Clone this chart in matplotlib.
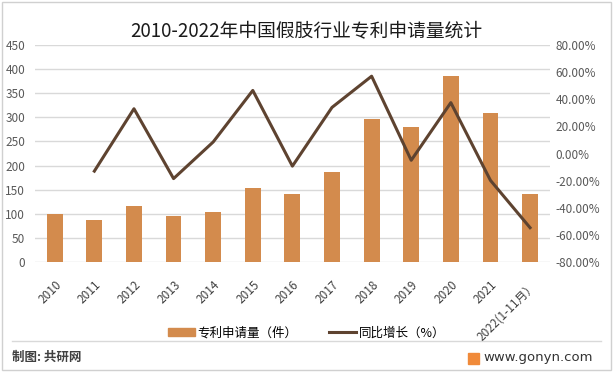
import numpy as np
import matplotlib
matplotlib.use('Agg')
import matplotlib.pyplot as plt
from matplotlib.patches import Rectangle
from matplotlib.lines import Line2D
from matplotlib.ticker import FuncFormatter, MultipleLocator

plt.rcParams['font.family'] = ['Noto Sans CJK SC', 'DejaVu Sans']

# 数据
years = ['2010', '2011', '2012', '2013', '2014', '2015', '2016', '2017',
         '2018', '2019', '2020', '2021', '2022(1-11月）']
applications = [100, 88, 117, 96, 104, 154, 140, 187, 297, 280, 386, 309, 140]
growth = [np.nan, -13.0, 33.0, -18.5, 8.5, 46.5, -9.3, 34.0, 57.0, -5.0, 37.5, -19.8, -54.7]

bar_color = '#D38B4D'
line_color = '#5E4330'
grid_color = '#D9D9D9'

fig = plt.figure(figsize=(6.13, 3.72), dpi=100)
fig.patch.set_facecolor('white')

# 外框
fig.add_artist(Rectangle((0.004, 0.006), 0.992, 0.988, transform=fig.transFigure,
                         fill=False, edgecolor='#D0D0D0', linewidth=1))

ax = fig.add_axes([0.057, 0.2957, 0.840, 0.5833])
x = np.arange(len(years))
ax.bar(x, applications, width=0.4, color=bar_color, zorder=2)
ax.set_xlim(-0.5, len(years) - 0.5)
ax.set_ylim(0, 450)
ax.yaxis.set_major_locator(MultipleLocator(50))
ax.grid(axis='y', color=grid_color, linewidth=1, zorder=0)
ax.set_axisbelow(True)
for s in ax.spines.values():
    s.set_visible(False)
ax.tick_params(axis='both', length=0, labelsize=8.5, colors='#595959')
ax.tick_params(axis='y', pad=7)
ax.set_xticks(x)
ax.set_xticklabels(years, rotation=45, ha='right', rotation_mode='anchor',
                   fontsize=8.5, color='#404040')
ax.tick_params(axis='x', pad=12)

ax2 = ax.twinx()
ax2.plot(x, np.array(growth) / 100, color=line_color, linewidth=2.2, zorder=3)
ax2.set_ylim(-0.8, 0.8)
ax2.yaxis.set_major_locator(MultipleLocator(0.2))
ax2.yaxis.set_major_formatter(FuncFormatter(lambda v, p: f'{v * 100:.2f}%'))
for s in ax2.spines.values():
    s.set_visible(False)
ax2.tick_params(axis='y', length=0, labelsize=8.5, colors='#595959', pad=4)

fig.text(0.5, 0.914, '2010-2022年中国假肢行业专利申请量统计', ha='center', va='center',
         fontsize=13.5, color='#1a1a1a')

handles = [Rectangle((0, 0), 1, 1, color=bar_color),
           Line2D([0], [0], color=line_color, linewidth=2.2)]
fig.legend(handles, ['专利申请量（件）', '同比增长（%）'], loc='center',
           bbox_to_anchor=(0.5, 0.105), ncol=2, frameon=False, fontsize=9,
           handlelength=2.2, handleheight=0.7, columnspacing=2.5, handletextpad=0.2)

# 底部分隔线与来源
fig.add_artist(Line2D([0.02, 0.98], [0.083, 0.083], transform=fig.transFigure,
                      color='#D9D9D9', linewidth=1))
fig.text(0.02, 0.038, '制图: 共研网', ha='left', va='center', fontsize=9,
         fontweight='bold', color='#404040')
fig.add_artist(Rectangle((0.763, 0.022), 0.018, 0.03, transform=fig.transFigure,
                         color='#F08A3A'))
fig.text(0.789, 0.038, 'www.gonyn.com', ha='left', va='center', fontsize=9.5,
         color='#333333', family='DejaVu Sans')

fig.savefig('out.png', dpi=100)
